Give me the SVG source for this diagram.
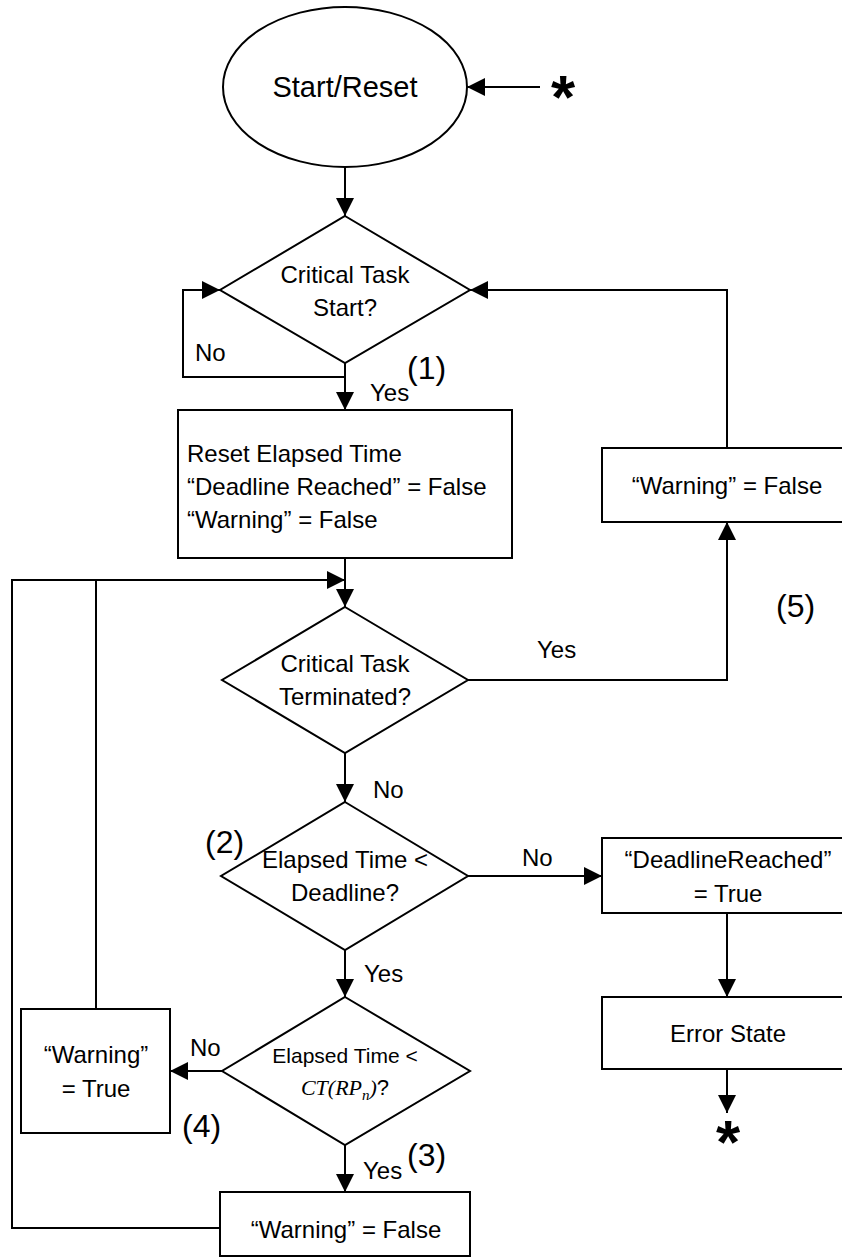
<svg xmlns="http://www.w3.org/2000/svg" width="842" height="1258" viewBox="0 0 842 1258">
  <style>
    .shape { fill: #ffffff; stroke: #000000; stroke-width: 2; }
    .wire { fill: none; stroke: #000000; stroke-width: 2; }
    text { font-family: "Liberation Sans", Arial, sans-serif; fill: #000000; }
    .t { font-size: 24px; }
    .mid { text-anchor: middle; }
    .tag { font-size: 32px; }
    .star { font-size: 62px; font-weight: bold; text-anchor: middle; }
    .small { font-size: 21px; }
    .math { font-family: "Liberation Serif", "Times New Roman", serif; font-style: italic; }
  </style>
  <defs>
    <marker id="arrow" markerUnits="userSpaceOnUse" markerWidth="18" markerHeight="18" refX="18" refY="9" orient="auto">
      <path d="M0,0 L18,9 L0,18 Z" fill="#000000"/>
    </marker>
  </defs>

  <!-- connectors -->
  <g id="connectors" class="wire" marker-end="url(#arrow)">
    <path d="M540,87 H467"/>
    <path d="M345,167 V216"/>
    <path d="M345,377 H183 V290 H220"/>
    <path d="M345,363 V410"/>
    <path d="M345,558 V607"/>
    <path d="M96,1009 V580 H345"/>
    <path d="M220,1228 H12 V580 H96" marker-end="none"/>
    <path d="M468,680 H727 V522"/>
    <path d="M727,448 V290 H470"/>
    <path d="M345,753 V802"/>
    <path d="M468,876 H602"/>
    <path d="M345,950 V997"/>
    <path d="M727,913 V997"/>
    <path d="M727,1069 V1113"/>
    <path d="M222,1071 H170"/>
    <path d="M345,1145 V1192"/>
  </g>

  <!-- connector labels -->
  <g id="labels">
    <text class="t" x="195" y="361">No</text>
    <text class="t" x="370" y="401">Yes</text>
    <text class="tag" x="407" y="379">(1)</text>
    <text class="t" x="537" y="658">Yes</text>
    <text class="tag" x="776" y="617">(5)</text>
    <text class="t" x="373" y="798">No</text>
    <text class="tag" x="205" y="853">(2)</text>
    <text class="t" x="522" y="866">No</text>
    <text class="t" x="364" y="982">Yes</text>
    <text class="t" x="190" y="1056">No</text>
    <text class="tag" x="182" y="1137">(4)</text>
    <text class="t" x="363" y="1179">Yes</text>
    <text class="tag" x="407" y="1166">(3)</text>
    <text class="star" x="563" y="118">*</text>
    <text class="star" x="728" y="1163">*</text>
  </g>

  <g id="start">
    <ellipse class="shape" cx="345" cy="87" rx="122" ry="80"/>
    <text class="mid" x="345" y="97" font-size="29">Start/Reset</text>
  </g>

  <g id="task-start">
    <polygon class="shape" points="345,216 470,290 345,363 220,290"/>
    <text class="t mid" x="345" y="283">Critical Task</text>
    <text class="t mid" x="345" y="316">Start?</text>
  </g>

  <g id="reset">
    <rect class="shape" x="178" y="410" width="334" height="148"/>
    <text class="t" x="187" y="462">Reset Elapsed Time</text>
    <text class="t" x="187" y="495">“Deadline Reached” = False</text>
    <text class="t" x="187" y="528">“Warning” = False</text>
  </g>

  <g id="warning-clear-top">
    <rect class="shape" x="602" y="448" width="260" height="74"/>
    <text class="t mid" x="727" y="494">“Warning” = False</text>
  </g>

  <g id="task-terminated">
    <polygon class="shape" points="345,607 468,680 345,753 222,680"/>
    <text class="t mid" x="345" y="672">Critical Task</text>
    <text class="t mid" x="345" y="705">Terminated?</text>
  </g>

  <g id="deadline-check">
    <polygon class="shape" points="345,802 468,876 345,950 221,876"/>
    <text class="t mid" x="345" y="868">Elapsed Time &lt;</text>
    <text class="t mid" x="345" y="901">Deadline?</text>
  </g>

  <g id="deadline-reached">
    <rect class="shape" x="602" y="838" width="260" height="75"/>
    <text class="t mid" x="728" y="868">“DeadlineReached”</text>
    <text class="t mid" x="728" y="902">= True</text>
  </g>

  <g id="error-state">
    <rect class="shape" x="602" y="997" width="260" height="72"/>
    <text class="t mid" x="728" y="1042">Error State</text>
  </g>

  <g id="ct-check">
    <polygon class="shape" points="345,997 470,1071 345,1145 222,1071"/>
    <text class="small mid" x="345" y="1063">Elapsed Time &lt;</text>
    <text class="mid" x="345" y="1095" font-size="22"><tspan class="math">CT(RP</tspan><tspan class="math" font-size="15" dy="5">n</tspan><tspan class="math" dy="-5">)</tspan>?</text>
  </g>

  <g id="warning-set">
    <rect class="shape" x="21" y="1009" width="149" height="124"/>
    <text class="t mid" x="96" y="1063">“Warning”</text>
    <text class="t mid" x="96" y="1097">= True</text>
  </g>

  <g id="warning-clear-bottom">
    <rect class="shape" x="220" y="1192" width="250" height="64"/>
    <text class="t mid" x="346" y="1238">“Warning” = False</text>
  </g>
</svg>
